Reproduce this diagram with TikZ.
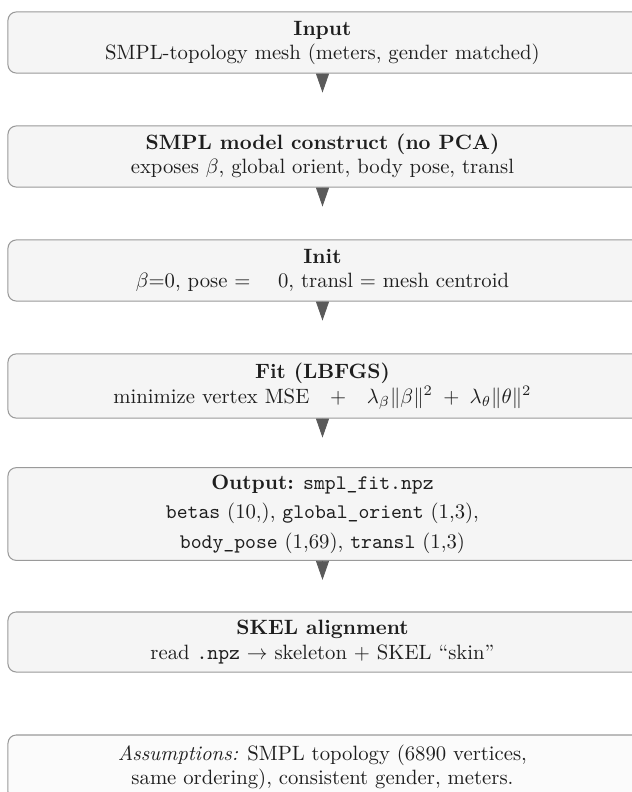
\documentclass[tikz,border=0pt]{standalone}
\usetikzlibrary{arrows.meta}
\definecolor{boxfill}{HTML}{F5F5F5}
\definecolor{notefill}{HTML}{FBFBFB}
\definecolor{boxline}{HTML}{9A9A9A}
\definecolor{tipgray}{HTML}{5A5A5A}
\definecolor{ink}{HTML}{1E1E1E}
% centred lines with a little extra room on the right
\newcommand{\rpadlines}[1]{\begin{tabular}{@{}c@{\hspace{3.9pt}}}#1\end{tabular}}
\tikzset{
  stagebox/.style={draw=boxline, line width=0.5pt, fill=boxfill, rounded corners=4pt,
    minimum width=307.7pt, minimum height=29.5pt, inner sep=2pt,
    align=center, text=ink, font=\normalsize},
  notebox/.style={stagebox, fill=notefill, minimum height=31.4pt},
  flowtip/.style={draw=tipgray, fill=tipgray, line width=0.4pt,
    -{Triangle[length=9.2pt,width=6.3pt]}},
}
\begin{document}
\begin{tikzpicture}[x=0.483pt,y=-0.483pt]
\useasboundingbox (0,0) rectangle (631,792);

\node[stagebox] (b1) at (326.5,42.5)
  {\rpadlines{\textbf{Input}\\ SMPL-topology mesh (meters, gender matched)}};
\node[stagebox] (b2) at (326.5,156.5)
  {\rpadlines{\textbf{SMPL model construct (no PCA)}\\ exposes $\beta$, global orient, body pose, transl}};
\node[stagebox] (b3) at (326.5,270.5)
  {\rpadlines{\textbf{Init}\\ $\beta$=0, pose = \quad 0, transl = mesh centroid}};
\node[stagebox, minimum height=31pt] (b4) at (326.5,386)
  {\rpadlines{\textbf{Fit (LBFGS)}\\ minimize vertex MSE\quad$+$\quad$\lambda_\beta\|\beta\|^2\;+\;\lambda_\theta\|\theta\|^2$}};
\node[stagebox, minimum height=41.5pt] (b5) at (326.5,514)
  {\rpadlines{\textbf{Output:} \texttt{smpl\_fit.npz}\\[2.4pt]
   \texttt{betas} $(10{,})$, \texttt{global\_orient} $(1{,}3)$,\\[2.4pt]
   \texttt{body\_pose} $(1{,}69)$, \texttt{transl} $(1{,}3)$}};
\node[stagebox, minimum height=29pt] (b6) at (326.5,642)
  {\rpadlines{\textbf{SKEL alignment}\\ read \texttt{.npz} $\rightarrow$ skeleton + SKEL ``skin''}};
\node[notebox] (b7) at (326.5,767.5)
  {\rpadlines{\textit{Assumptions:} SMPL topology (6890 vertices,\\ same ordering), consistent gender, meters.}};

% short downward tips under each stage, under the text centre
\foreach \s in {1,...,5} {
  \path (b\s.south) ++(-4,0) coordinate (s\s) ++(0,19) coordinate (t\s);
  \draw[flowtip] (s\s) -- (t\s);
}
\end{tikzpicture}
\end{document}
